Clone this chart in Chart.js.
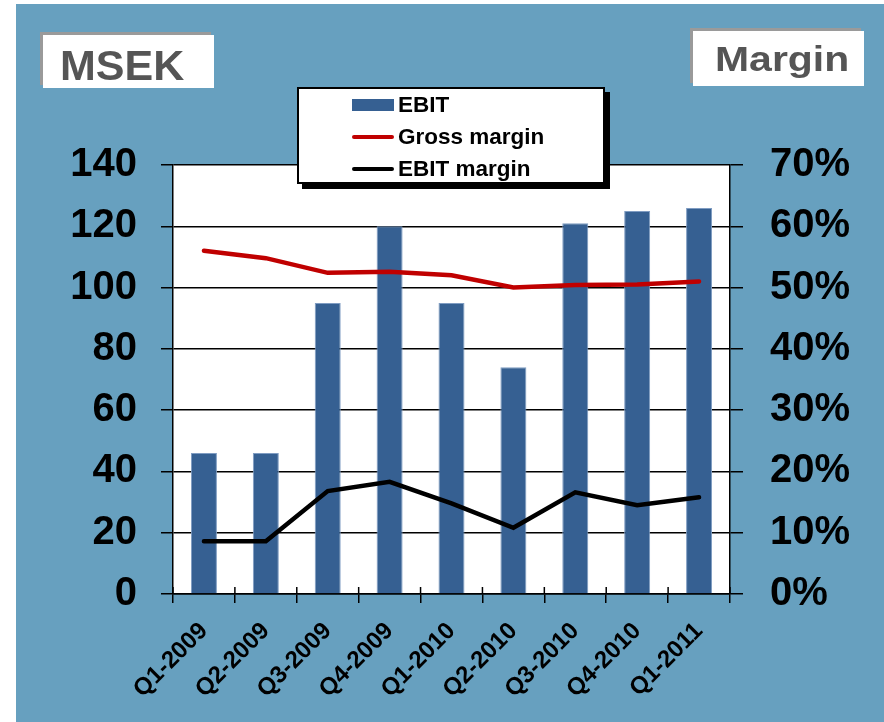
<!DOCTYPE html>
<html>
<head>
<meta charset="utf-8">
<script src="https://cdn.jsdelivr.net/npm/chart.js@4.4.0/dist/chart.umd.min.js"></script>
<style>
    html, body { margin: 0; padding: 0; background: #fff; }
    body { width: 884px; height: 722px; position: relative; overflow: hidden; font-family: "Liberation Sans", Arial, sans-serif; }
    #panel { position: absolute; left: 16px; top: 4px; right: 0; bottom: 0; background: #67a0bf; }
    #chartCanvas { position: absolute; left: 0; top: 0; }
    .unitBox { position: absolute; background: #fff; box-shadow: -3px -3px 0 #9a9a9a; color: #555; font-weight: bold; }
    #msek { left: 43px; top: 35px; width: 171px; height: 53px; font-size: 43px; line-height: 61px; padding-left: 17px; box-sizing: border-box; }
    #margin { left: 693px; top: 31px; width: 171px; height: 55px; font-size: 35px; line-height: 55px; padding-left: 22px; box-sizing: border-box; }
    #margin span { display: inline-block; transform: scaleX(1.17); transform-origin: left center; }
    #legend { position: absolute; left: 297px; top: 87px; width: 308px; height: 97px; box-sizing: border-box; background: #fff; border: 2px solid #000; box-shadow: 5px 5px 0 #000; padding-top: 0; }
    .legendItem { height: 32px; display: flex; align-items: center; font-size: 22.5px; font-weight: bold; color: #000; }
    .legendMark { width: 42px; margin-left: 53px; margin-right: 4px; }
</style>
</head>
<body>
<div id="panel"></div>
<canvas id="chartCanvas" width="884" height="722"></canvas>
<div id="msek" class="unitBox">MSEK</div>
<div id="margin" class="unitBox"><span>Margin</span></div>
<div id="legend"></div>
<script>
// Quarterly figures
const quarters = ['Q1-2009', 'Q2-2009', 'Q3-2009', 'Q4-2009', 'Q1-2010', 'Q2-2010', 'Q3-2010', 'Q4-2010', 'Q1-2011'];
const ebit = [46, 46, 95, 120, 95, 74, 121, 125, 126];
const grossMargin = [56, 54.8, 52.4, 52.6, 52, 50, 50.4, 50.5, 51];
const ebitMargin = [8.6, 8.6, 16.8, 18.3, 14.8, 10.8, 16.6, 14.5, 15.8];
const leftTicks = [0, 20, 40, 60, 80, 100, 120, 140];
const rightTicks = [0, 10, 20, 30, 40, 50, 60, 70];

const FONT = '"Liberation Sans", Arial, sans-serif';

// white plot background + tick marks that cross the x axis
const plotBackground = {
    id: 'plotBackground',
    beforeDraw(chart) {
        const { ctx, chartArea } = chart;
        ctx.save();
        ctx.fillStyle = '#fff';
        ctx.fillRect(chartArea.left, chartArea.top, chartArea.right - chartArea.left, chartArea.bottom - chartArea.top);
        ctx.restore();
    },
    afterDatasetsDraw(chart) {
        const { ctx, chartArea, scales } = chart;
        ctx.save();
        ctx.strokeStyle = '#000';
        ctx.lineWidth = 1.5;
        for (let i = 0; i <= quarters.length; i++) {
            const x = scales.x.getPixelForValue(i - 0.5);
            ctx.beginPath();
            ctx.moveTo(x, chartArea.bottom - 7);
            ctx.lineTo(x, chartArea.bottom);
            ctx.stroke();
        }
        ctx.restore();
    }
};

function renderLegend(chart) {
    const legend = document.getElementById('legend');
    legend.innerHTML = chart.data.datasets.map(ds => {
        const mark = ds.type === 'line'
            ? `<div class="legendMark" style="height:4px;border-radius:2px;background:${ds.borderColor}"></div>`
            : `<div class="legendMark" style="height:12px;background:${ds.backgroundColor}"></div>`;
        return `<div class="legendItem">${mark}<span>${ds.label}</span></div>`;
    }).join('');
}

const chart = new Chart(document.getElementById('chartCanvas'), {
    type: 'bar',
    data: {
        labels: quarters,
        datasets: [
            {
                label: 'EBIT',
                data: ebit,
                yAxisID: 'y',
                backgroundColor: '#366092',
                borderColor: '#7f9cc2',
                borderWidth: 1,
                categoryPercentage: 1,
                barPercentage: 0.42,
                order: 3
            },
            {
                type: 'line',
                label: 'Gross margin',
                data: grossMargin,
                yAxisID: 'y1',
                borderColor: '#c00000',
                borderWidth: 4.5,
                borderCapStyle: 'round',
                pointRadius: 0,
                tension: 0,
                order: 2
            },
            {
                type: 'line',
                label: 'EBIT margin',
                data: ebitMargin,
                yAxisID: 'y1',
                borderColor: '#000',
                borderWidth: 4.5,
                borderCapStyle: 'round',
                pointRadius: 0,
                tension: 0,
                order: 1
            }
        ]
    },
    options: {
        responsive: false,
        animation: false,
        layout: { padding: { top: 165, left: 0, right: 0, bottom: 0 } },
        plugins: {
            legend: { display: false },
            tooltip: { enabled: false }
        },
        scales: {
            x: {
                grid: { offset: true, drawOnChartArea: false, color: '#000', lineWidth: 1.5, tickLength: 9 },
                border: { color: '#000', width: 1.5 },
                ticks: {
                    color: '#000',
                    minRotation: 45,
                    maxRotation: 45,
                    padding: 14,
                    font: { family: FONT, size: 24, weight: 'bold' }
                },
                afterFit(scale) { scale.height = 128; }
            },
            y: {
                position: 'left',
                min: 0,
                max: 140,
                afterBuildTicks(scale) { scale.ticks = leftTicks.map(v => ({ value: v })); },
                grid: { color: '#000', lineWidth: 1.5, tickLength: 12 },
                border: { color: '#000', width: 1.5 },
                ticks: {
                    color: '#000',
                    padding: 24,
                    font: { family: FONT, size: 40, weight: 'bold' }
                },
                afterFit(scale) { scale.width = 173; }
            },
            y1: {
                position: 'right',
                min: 0,
                max: 70,
                afterBuildTicks(scale) { scale.ticks = rightTicks.map(v => ({ value: v })); },
                grid: { drawOnChartArea: false, color: '#000', lineWidth: 1.5, tickLength: 13 },
                border: { color: '#000', width: 1.5 },
                ticks: {
                    color: '#000',
                    padding: 27,
                    font: { family: FONT, size: 40, weight: 'bold' },
                    callback: v => v + '%'
                },
                afterFit(scale) { scale.width = 154; }
            }
        }
    },
    plugins: [plotBackground]
});

renderLegend(chart);
</script>
</body>
</html>
